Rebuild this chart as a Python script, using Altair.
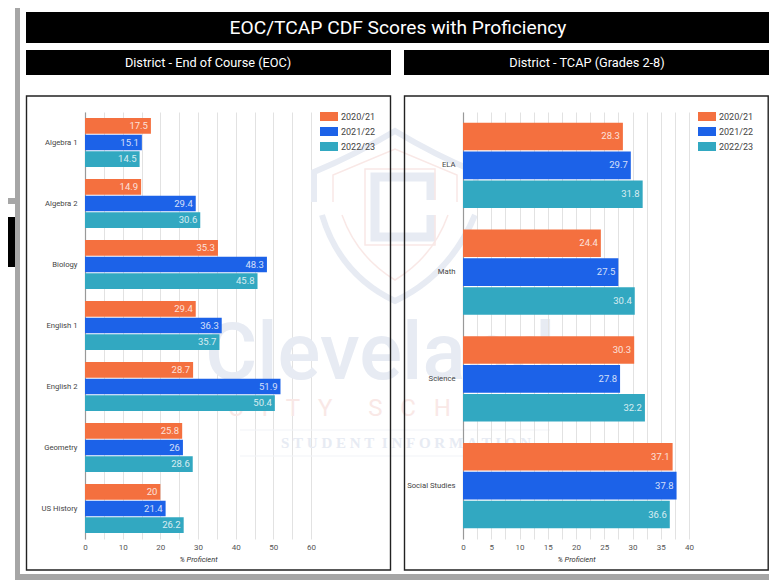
import altair as alt
import pandas as pd

YEARS = ["2020/21", "2021/22", "2022/23"]
COLORS = ["#F4703F", "#1C62E8", "#32A8C1"]

EOC_SUBJECTS = ["Algebra 1", "Algebra 2", "Biology", "English 1", "English 2", "Geometry", "US History"]
EOC_2021 = [17.5, 14.9, 35.3, 29.4, 28.7, 25.8, 20]
EOC_2122 = [15.1, 29.4, 48.3, 36.3, 51.9, 26, 21.4]
EOC_2223 = [14.5, 30.6, 45.8, 35.7, 50.4, 28.6, 26.2]

TCAP_SUBJECTS = ["ELA", "Math", "Science", "Social Studies"]
TCAP_2021 = [28.3, 24.4, 30.3, 37.1]
TCAP_2122 = [29.7, 27.5, 27.8, 37.8]
TCAP_2223 = [31.8, 30.4, 32.2, 36.6]

FONT = "Roboto"
OX_L, OX_R, OY = 85, 463, 112
PW, PH = 226, 427
ONE = pd.DataFrame({"a": [0]})
NB = "\u00a0"


def table(subjects, *series):
    rows = []
    for year, vals in zip(YEARS, series):
        for s, v in zip(subjects, vals):
            rows.append({"subject": s, "year": year, "value": v})
    return pd.DataFrame(rows)


def rect(x0, x1, y0, y1, color, ox=OX_L):
    return alt.Chart(ONE).mark_rect(color=color).encode(
        x=alt.value(x0 - ox), x2=alt.value(x1 - ox),
        y=alt.value(y0 - OY), y2=alt.value(y1 - OY))


def frame(x0, x1, y0, y1, ox):
    return alt.Chart(ONE).mark_rect(filled=False, stroke="#222222", strokeWidth=1.4).encode(
        x=alt.value(x0 - ox), x2=alt.value(x1 - ox),
        y=alt.value(y0 - OY), y2=alt.value(y1 - OY))


def label(txt, x, y, size, color, ox=OX_L, align="center", font=FONT, **kw):
    return alt.Chart(ONE).mark_text(font=font, fontSize=size, color=color, align=align,
                                    baseline="middle", **kw).encode(
        x=alt.value(x - ox), y=alt.value(y - OY), text=alt.value(txt))


def shape(path, color, width, cx=395, cy=215, r=100):
    return alt.Chart(ONE).mark_point(shape=path, filled=False, stroke=color, strokeWidth=width,
                                     size=(2 * r) ** 2, opacity=1).encode(
        x=alt.value(cx - OX_L), y=alt.value(cy - OY))


def hline(x0, x1, y, color):
    return alt.Chart(ONE).mark_rule(color=color, strokeWidth=1).encode(
        x=alt.value(x0 - OX_L), x2=alt.value(x1 - OX_L), y=alt.value(y - OY))


def spaced(words, gap):
    return (NB * gap * 2).join((NB * gap).join(w) for w in words)


BLUE_W = "#E7EBF3"
PINK_W = "#F9E8E6"
watermark = [
    shape("M-.81,-.13L-.81,-.43Q-.4,-.6 0,-.84Q.4,-.6 .81,-.43L.81,-.13", BLUE_W, 6),
    shape("M-.73,0Q-.55,.6 0,.86Q.55,.6 .8,0", BLUE_W, 6),
    shape("M-.62,-.13L-.62,-.40L0,-.66L.62,-.40L.62,-.13", PINK_W, 1.5),
    shape("M-.53,0Q-.38,.42 0,.65Q.38,.42 .53,0", PINK_W, 1.5),
    shape("M.36,-.15L.36,-.38L-.2,-.38L-.2,.22L.36,.22L.36,0", BLUE_W, 9),
    shape("M.40,-.15L.40,-.46L-.30,-.46L-.30,.30L.40,.30L.40,0", PINK_W, 1.5),
    label("Cleveland", 205, 355, 80, BLUE_W, align="left", fontWeight=500),
    label(spaced(["CITY", "SCHOOLS"], 3), 228, 409, 24, PINK_W, align="left"),
    hline(240, 550, 430, "#F1F3F7"),
    hline(240, 550, 456, "#F1F3F7"),
    label(spaced(["STUDENT", "INFORMATION"], 1), 281, 443, 15, BLUE_W, align="left",
          font="Liberation Serif", fontWeight="bold"),
]


def bars(df, subjects, x_max, grid_step, label_step, legend_x):
    grid_vals = []
    v = 0
    while v <= x_max:
        grid_vals.append(v)
        v += grid_step
    base = alt.Chart(df).encode(
        y=alt.Y("subject:N", sort=subjects, title=None,
                scale=alt.Scale(paddingInner=0.2, paddingOuter=0.1),
                axis=alt.Axis(ticks=False, domainColor="#999999", domainWidth=1.2, labelFont=FONT,
                              labelFontSize=7.7, labelColor="#444444", labelPadding=8, grid=False,
                              labelLimit=200)),
        yOffset=alt.YOffset("year:N", sort=YEARS, scale=alt.Scale(paddingInner=0.05, paddingOuter=0)),
        x=alt.X("value:Q", title="% Proficient",
                scale=alt.Scale(domain=[0, x_max], nice=False),
                axis=alt.Axis(values=grid_vals, ticks=False, domain=False, grid=True,
                              gridColor="#E2E2E2", gridWidth=1, labelFont=FONT, labelFontSize=8,
                              labelColor="#555555", labelPadding=4, labelFlush=False,
                              labelOverlap=False, labelSeparation=0,
                              labelExpr=f"datum.value % {label_step} == 0 ? datum.value : ''",
                              titleFont=FONT, titleFontSize=7.5, titleFontStyle="italic",
                              titleFontWeight="normal", titleColor="#333333", titlePadding=4)),
    )
    b = base.mark_bar(cornerRadius=0).encode(
        color=alt.Color("year:N", sort=YEARS, scale=alt.Scale(domain=YEARS, range=COLORS),
                        legend=alt.Legend(orient="none", legendX=legend_x, legendY=0, title=None,
                                          symbolType="M-2,-1H2V1H-2Z", symbolSize=81,
                                          symbolStrokeWidth=0, symbolOpacity=1, labelFont=FONT,
                                          labelFontSize=9, labelColor="#444444", labelOffset=7.5,
                                          rowPadding=5, padding=0)))
    t = base.mark_text(font=FONT, fontSize=9.5, color="#FFFFFF", opacity=0.8, align="right",
                       baseline="middle", dx=-3).encode(text=alt.Text("value:Q"))
    return [b, t]


left_deco = [
    rect(8, 15, 217, 267, "#000000"),
    rect(8, 20, 198, 204, "#A6A6A6"),
    rect(15, 20, 8, 578, "#A6A6A6"),
    rect(15, 769, 574, 580, "#A6A6A6"),
    *watermark,
    rect(26, 769, 12, 43, "#000000"),
    rect(26, 391, 50, 75, "#000000"),
    rect(404, 769, 50, 75, "#000000"),
    label("EOC/TCAP CDF Scores with Proficiency", 398, 28, 19.2, "#FFFFFF"),
    label("District - End of Course (EOC)", 208, 63, 12.75, "#FFFFFF"),
    label("District - TCAP (Grades 2-8)", 587, 63, 12.75, "#FFFFFF"),
    frame(26.5, 390.5, 96, 570, OX_L),
]
right_deco = [frame(404.5, 768.2, 96, 570, OX_R)]

eoc = table(EOC_SUBJECTS, EOC_2021, EOC_2122, EOC_2223)
tcap = table(TCAP_SUBJECTS, TCAP_2021, TCAP_2122, TCAP_2223)

left = alt.layer(*left_deco, *bars(eoc, EOC_SUBJECTS, 60, 5, 10, 239.5)).properties(width=PW, height=PH)
right = alt.layer(*right_deco, *bars(tcap, TCAP_SUBJECTS, 40, 2.5, 5, 239.5)).properties(width=PW, height=PH)

chart = alt.hconcat(left, right, spacing=152, bounds="flush").resolve_scale(
    color="independent", x="independent", y="independent", yOffset="independent"
).properties(padding=0).configure_view(stroke=None)

chart.save("out.html", embed_options={"renderer": "svg", "actions": False})
